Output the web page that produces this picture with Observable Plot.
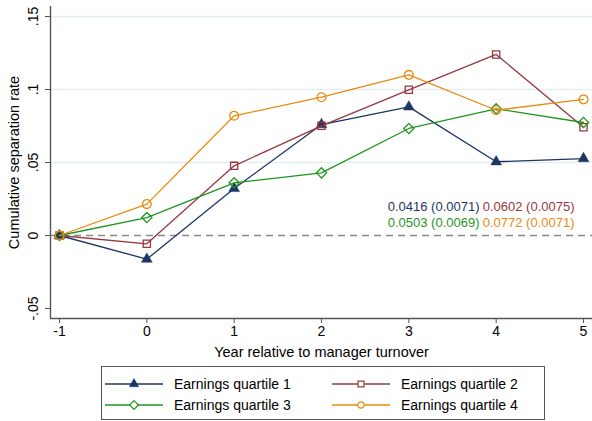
<!DOCTYPE html>
<html><head><meta charset="utf-8">
<script src="https://cdn.jsdelivr.net/npm/d3@7"></script>
<script src="https://cdn.jsdelivr.net/npm/@observablehq/plot@0.6"></script>
<style>
body{margin:0;background:#fff;font-family:"Liberation Sans",Arial,Helvetica,sans-serif;}
#chart{width:592px;height:421px;position:relative;background:#fff;}
#legend{position:absolute;left:101px;top:366px;}
</style></head><body><div id="chart"></div>
<script>
const years = [-1, 0, 1, 2, 3, 4, 5];
const q1 = [0, -0.0162, 0.0322, 0.0760, 0.0881, 0.0505, 0.0527];
const q2 = [0, -0.0057, 0.0477, 0.0751, 0.0998, 0.1240, 0.0742];
const q3 = [0, 0.0123, 0.0361, 0.0429, 0.0733, 0.0868, 0.0774];
const q4 = [0, 0.0215, 0.0820, 0.0947, 0.1100, 0.0858, 0.0932];
const seriesNames = ["Earnings quartile 1", "Earnings quartile 2", "Earnings quartile 3", "Earnings quartile 4"];
const seriesColors = ["#1c3565", "#98383e", "#1f951f", "#ea8a10"];
const seriesSymbols = ["triangle", "square2", "diamond2", "circle"];
const coefLabels = ["0.0416 (0.0071)", "0.0602 (0.0075)", "0.0503 (0.0069)", "0.0772 (0.0071)"];
const yTicks = [-0.05, 0, 0.05, 0.1, 0.15];
const yTickLabels = ["-.05", "0", ".05", ".1", ".15"];
const yGrid = [0.05, 0.1, 0.15];
const xTicks = [-1, 0, 1, 2, 3, 4, 5];
const xLabel = "Year relative to manager turnover";
const yLabel = "Cumulative separation rate";

const allSeries = [q1, q2, q3, q4];
const data = allSeries.flatMap((vals, s) => years.map((x, j) => ({x, y: vals[j], s})));

const xPad = 9 / 87.33, yPad = 10 / 1460;
const xDom = [-1 - xPad, 5 + xPad];
const yDom = [-0.05 - yPad, 0.15 + yPad];
const axisColor = "#555";

const symbolR = [4, 4.6, 4.6, 4.4];
const marks = [
  Plot.gridY(yGrid, {stroke: "#e4edef", strokeOpacity: 1, strokeWidth: 1.3}),
  Plot.ruleY([0], {stroke: "#8a8a8a", strokeDasharray: "7,5", strokeWidth: 1.3}),
];
allSeries.forEach((vals, s) => {
  const d = data.filter(e => e.s === s);
  marks.push(Plot.line(d, {x: "x", y: "y", stroke: seriesColors[s], strokeWidth: 1.3}));
  const filled = s === 0;
  marks.push(Plot.dot(d, {x: "x", y: "y", symbol: () => seriesSymbols[s], r: symbolR[s],
    fill: filled ? seriesColors[s] : "none", stroke: seriesColors[s], strokeWidth: filled ? 0.5 : 1.3}));
});
// annotation
const annoDx = [-104, -9, -104, -9];
const annoDy = [-29, -29, -13, -13];
coefLabels.forEach((t, i) => {
  marks.push(Plot.text([t], {x: () => 5, y: () => 0, text: d => d, dx: annoDx[i], dy: annoDy[i],
    textAnchor: "end", fill: seriesColors[i], fontSize: 13}));
});
// axes
marks.push(
  Plot.ruleX([xDom[0]], {stroke: axisColor, strokeWidth: 1.4}),
  Plot.ruleY([yDom[0]], {stroke: axisColor, strokeWidth: 1.4}),
  Plot.axisX({ticks: xTicks, tickSize: 5, tickPadding: 3, fontSize: 14, label: null, stroke: axisColor, tickFormat: d => String(d)}),
  Plot.axisY({ticks: yTicks, tickSize: 5, tickFormat: () => "", label: null, stroke: axisColor}),
  Plot.text(yTicks, {frameAnchor: "left", y: d => d, text: (d, i) => yTickLabels[i], rotate: -90, dx: -17, fontSize: 14, fill: "#000", textAnchor: "middle", lineAnchor: "middle"}),
  Plot.text([yLabel], {frameAnchor: "left", text: d => d, rotate: -90, dx: -36, fontSize: 14.5, fill: "#000", textAnchor: "middle", lineAnchor: "middle"}),
  Plot.text([xLabel], {frameAnchor: "bottom", text: d => d, dy: 34, fontSize: 14.5, fill: "#000", textAnchor: "middle", lineAnchor: "middle"})
);

const plot = Plot.plot({
  width: 592, height: 362,
  marginTop: 6, marginBottom: 44, marginLeft: 50, marginRight: 0,
  style: {fontFamily: '"Liberation Sans", Arial, Helvetica, sans-serif', background: "#fff", color: "#000"},
  x: {domain: xDom, axis: null},
  y: {domain: yDom, axis: null},
  marks
});
document.getElementById("chart").appendChild(plot);

// legend
const lw = 444, lh = 54;
const leg = d3.create("svg").attr("id", "legend").attr("width", lw).attr("height", lh)
  .style("font-family", '"Liberation Sans", Arial, Helvetica, sans-serif');
leg.append("rect").attr("x", 0.5).attr("y", 0.5).attr("width", lw - 1).attr("height", lh - 1)
  .attr("fill", "#fff").attr("stroke", "#555").attr("stroke-width", 1);
const d3Sym = {triangle: d3.symbolTriangle, square2: d3.symbolSquare2, diamond2: d3.symbolDiamond2, circle: d3.symbolCircle};
const legSize = [38, 45, 48, 32];
const colX = [4, 231], rowY = [18, 39];
seriesNames.forEach((name, i) => {
  const cx = colX[i % 2], cy = rowY[Math.floor(i / 2)];
  const g = leg.append("g");
  g.append("line").attr("x1", cx).attr("x2", cx + 58).attr("y1", cy).attr("y2", cy)
    .attr("stroke", seriesColors[i]).attr("stroke-width", 1.3);
  const filled = i === 0;
  g.append("path").attr("transform", `translate(${cx + 29},${cy})`)
    .attr("d", d3.symbol(d3Sym[seriesSymbols[i]], legSize[i])())
    .attr("fill", filled ? seriesColors[i] : "#fff").attr("stroke", seriesColors[i]).attr("stroke-width", filled ? 0.5 : 1.2);
  g.append("text").attr("x", cx + 69).attr("y", cy).attr("dy", "0.35em").attr("font-size", 14).attr("fill", "#000").text(name);
});
document.getElementById("chart").appendChild(leg.node());
</script></body></html>
